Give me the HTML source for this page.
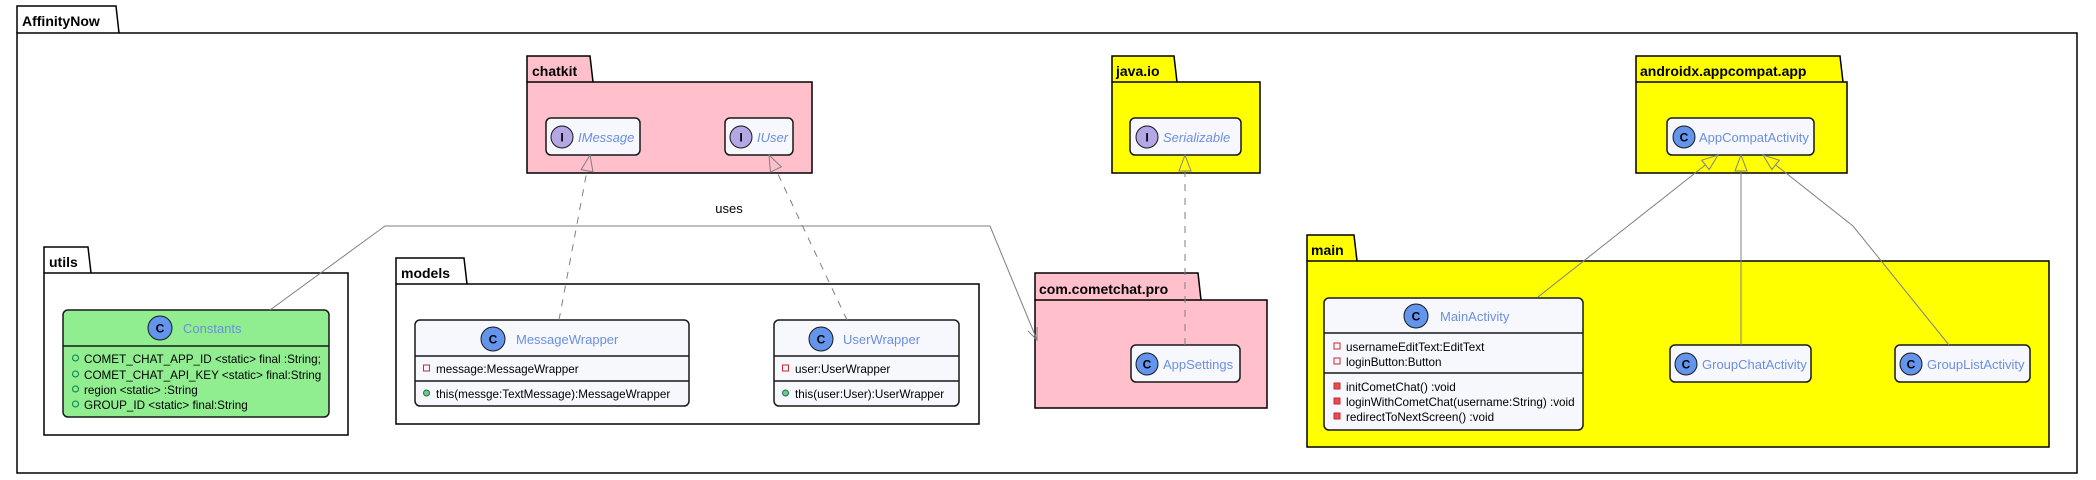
<!DOCTYPE html>
<html><head><meta charset="utf-8"><style>
html,body{margin:0;padding:0;background:#fff;width:2096px;height:480px;overflow:hidden}
svg text{font-family:"Liberation Sans",sans-serif}
.pk{font-weight:bold;font-size:14px;fill:#000}
.cn{font-size:13px;fill:#6a8fe0}
.ci{font-size:13px;fill:#6a8fe0;font-style:italic}
.m{font-size:11.7px;fill:#000}
.box{fill:#f7f8fd;stroke:#181818;stroke-width:1.5}
.ic{font-size:12px;font-weight:bold;fill:#000;text-anchor:middle}
</style></head><body>
<svg width="2096" height="480" xmlns="http://www.w3.org/2000/svg">
<path d="M17,33 L17,6 L116,6 L119,33" fill="#fff" stroke="#000" stroke-width="1.5"/>
<rect x="17" y="33" width="2060" height="440" fill="#fff" stroke="#000" stroke-width="1.5"/>
<text x="22" y="26" class="pk">AffinityNow</text>

<path d="M527,82 L527,56 L590,56 L593,82" fill="#ffc0cb" stroke="#000" stroke-width="1.5"/>
<rect x="527" y="82" width="285" height="91" fill="#ffc0cb" stroke="#000" stroke-width="1.5"/>
<text x="532" y="76" class="pk">chatkit</text>
<rect x="546" y="118" width="94" height="37" rx="5" class="box"/>
<circle cx="562" cy="137" r="11" fill="#b4a7e5" stroke="#181818"/><text x="562" y="141.5" class="ic">I</text>
<text x="578" y="142" class="ci">IMessage</text>
<rect x="725" y="118" width="68" height="37" rx="5" class="box"/>
<circle cx="741" cy="137" r="11" fill="#b4a7e5" stroke="#181818"/><text x="741" y="141.5" class="ic">I</text>
<text x="757" y="142" class="ci">IUser</text>

<path d="M1112,82 L1112,56 L1174,56 L1177,82" fill="#ffff00" stroke="#000" stroke-width="1.5"/>
<rect x="1112" y="82" width="148" height="91" fill="#ffff00" stroke="#000" stroke-width="1.5"/>
<text x="1116" y="76" class="pk">java.io</text>
<rect x="1130" y="118" width="111" height="37" rx="5" class="box"/>
<circle cx="1147" cy="137" r="11" fill="#b4a7e5" stroke="#181818"/><text x="1147" y="141.5" class="ic">I</text>
<text x="1163" y="142" class="ci">Serializable</text>

<path d="M1636,82 L1636,56 L1840,56 L1843,82" fill="#ffff00" stroke="#000" stroke-width="1.5"/>
<rect x="1636" y="82" width="211" height="91" fill="#ffff00" stroke="#000" stroke-width="1.5"/>
<text x="1640" y="76" class="pk">androidx.appcompat.app</text>
<rect x="1667" y="118" width="147" height="37" rx="5" class="box"/>
<circle cx="1684" cy="137" r="11" fill="#6495ed" stroke="#181818"/><text x="1684" y="141.5" class="ic">C</text>
<text x="1699" y="142" class="cn">AppCompatActivity</text>

<path d="M44,273 L44,247 L88,247 L91,273" fill="#fff" stroke="#000" stroke-width="1.5"/>
<rect x="44" y="273" width="304" height="162" fill="#fff" stroke="#000" stroke-width="1.5"/>
<text x="49" y="267" class="pk">utils</text>
<rect x="63" y="310" width="266" height="107" rx="5" fill="#90ee90" stroke="#181818" stroke-width="1.5"/>
<line x1="63" y1="346" x2="329" y2="346" stroke="#181818" stroke-width="1.5"/>
<circle cx="160" cy="328" r="12" fill="#6495ed" stroke="#181818"/><text x="160" y="332.5" class="ic">C</text>
<text x="183" y="333" class="cn">Constants</text>
<circle cx="75.5" cy="358" r="3" fill="none" stroke="#038048"/><text x="84" y="363" class="m">COMET_CHAT_APP_ID &lt;static&gt; final :String;</text>
<circle cx="75.5" cy="374" r="3" fill="none" stroke="#038048"/><text x="84" y="379" class="m">COMET_CHAT_API_KEY &lt;static&gt; final:String</text>
<circle cx="75.5" cy="389" r="3" fill="none" stroke="#038048"/><text x="84" y="394" class="m">region &lt;static&gt; :String</text>
<circle cx="75.5" cy="404" r="3" fill="none" stroke="#038048"/><text x="84" y="409" class="m">GROUP_ID &lt;static&gt; final:String</text>

<path d="M396,284 L396,258 L464,258 L467,284" fill="#fff" stroke="#000" stroke-width="1.5"/>
<rect x="396" y="284" width="583" height="140" fill="#fff" stroke="#000" stroke-width="1.5"/>
<text x="401" y="278" class="pk">models</text>
<rect x="415" y="320" width="274" height="86" rx="5" class="box"/>
<line x1="415" y1="356" x2="689" y2="356" stroke="#181818" stroke-width="1.5"/>
<line x1="415" y1="381" x2="689" y2="381" stroke="#181818" stroke-width="1.5"/>
<circle cx="493" cy="339" r="12" fill="#6495ed" stroke="#181818"/><text x="493" y="343.5" class="ic">C</text>
<text x="516" y="344" class="cn">MessageWrapper</text>
<rect x="423.5" y="365" width="6" height="6" fill="none" stroke="#c82930"/><text x="436" y="373" class="m">message:MessageWrapper</text>
<circle cx="426.5" cy="393" r="3" fill="#84be84" stroke="#038048"/><text x="436" y="398" class="m">this(messge:TextMessage):MessageWrapper</text>

<rect x="774" y="320" width="185" height="86" rx="5" class="box"/>
<line x1="774" y1="356" x2="959" y2="356" stroke="#181818" stroke-width="1.5"/>
<line x1="774" y1="381" x2="959" y2="381" stroke="#181818" stroke-width="1.5"/>
<circle cx="821" cy="339" r="12" fill="#6495ed" stroke="#181818"/><text x="821" y="343.5" class="ic">C</text>
<text x="843" y="344" class="cn">UserWrapper</text>
<rect x="782.5" y="365" width="6" height="6" fill="none" stroke="#c82930"/><text x="795" y="373" class="m">user:UserWrapper</text>
<circle cx="785.5" cy="393" r="3" fill="#84be84" stroke="#038048"/><text x="795" y="398" class="m">this(user:User):UserWrapper</text>

<path d="M1035,300 L1035,273 L1198,273 L1201,300" fill="#ffc0cb" stroke="#000" stroke-width="1.5"/>
<rect x="1035" y="300" width="232" height="108" fill="#ffc0cb" stroke="#000" stroke-width="1.5"/>
<text x="1039" y="294" class="pk">com.cometchat.pro</text>
<rect x="1131" y="345" width="109" height="37" rx="5" class="box"/>
<circle cx="1147" cy="364" r="11" fill="#6495ed" stroke="#181818"/><text x="1147" y="368.5" class="ic">C</text>
<text x="1163" y="369" class="cn">AppSettings</text>

<path d="M1307,261 L1307,235 L1354,235 L1357,261" fill="#ffff00" stroke="#000" stroke-width="1.5"/>
<rect x="1307" y="261" width="742" height="186" fill="#ffff00" stroke="#000" stroke-width="1.5"/>
<text x="1311" y="255" class="pk">main</text>
<rect x="1324" y="298" width="259" height="132" rx="5" class="box"/>
<line x1="1324" y1="333" x2="1583" y2="333" stroke="#181818" stroke-width="1.5"/>
<line x1="1324" y1="373" x2="1583" y2="373" stroke="#181818" stroke-width="1.5"/>
<circle cx="1416" cy="316" r="12" fill="#6495ed" stroke="#181818"/><text x="1416" y="320.5" class="ic">C</text>
<text x="1440" y="321" class="cn">MainActivity</text>
<rect x="1334" y="343" width="6" height="6" fill="none" stroke="#c82930"/><text x="1346" y="351" class="m">usernameEditText:EditText</text>
<rect x="1334" y="358" width="6" height="6" fill="none" stroke="#c82930"/><text x="1346" y="366" class="m">loginButton:Button</text>
<rect x="1334" y="383" width="6" height="6" fill="#e05050" stroke="#c82930"/><text x="1346" y="391" class="m">initCometChat() :void</text>
<rect x="1334" y="398" width="6" height="6" fill="#e05050" stroke="#c82930"/><text x="1346" y="406" class="m">loginWithCometChat(username:String) :void</text>
<rect x="1334" y="413" width="6" height="6" fill="#e05050" stroke="#c82930"/><text x="1346" y="421" class="m">redirectToNextScreen() :void</text>

<rect x="1670" y="345" width="141" height="37" rx="5" class="box"/>
<circle cx="1686" cy="364" r="11" fill="#6495ed" stroke="#181818"/><text x="1686" y="368.5" class="ic">C</text>
<text x="1702" y="369" class="cn">GroupChatActivity</text>
<rect x="1895" y="345" width="135" height="37" rx="5" class="box"/>
<circle cx="1911" cy="364" r="11" fill="#6495ed" stroke="#181818"/><text x="1911" y="368.5" class="ic">C</text>
<text x="1927" y="369" class="cn">GroupListActivity</text>

<g fill="none" stroke="#7f7f7f" stroke-width="1">
<line x1="559" y1="320" x2="587" y2="170.7" stroke-dasharray="7,7"/>
<polygon points="590,155 592.95,171.83 581.15,169.61"/>
<line x1="847" y1="320" x2="775.8" y2="169.5" stroke-dasharray="7,7"/>
<polygon points="769,155 781.26,166.9 770.42,172.03"/>
<line x1="1185" y1="345" x2="1185" y2="171" stroke-dasharray="7,7"/>
<polygon points="1185,155 1179,171 1191,171"/>
<line x1="1538" y1="297" x2="1705.4" y2="164.9"/>
<polygon points="1718,155 1709.16,169.62 1701.72,160.2"/>
<line x1="1741" y1="345" x2="1741" y2="171"/>
<polygon points="1741,155 1735,171 1747,171"/>
<polyline points="1949,345 1853,226 1775.6,164.9"/>
<polygon points="1763,155 1779.28,160.2 1771.84,169.62"/>
<polyline points="270,310 385,226 990,226 1037,340"/>
<polyline points="1037.05,327 1037,340 1027.8,330.8"/>
</g>
<text x="729" y="213" font-size="13" text-anchor="middle" fill="#000">uses</text>
</svg>
</body></html>
